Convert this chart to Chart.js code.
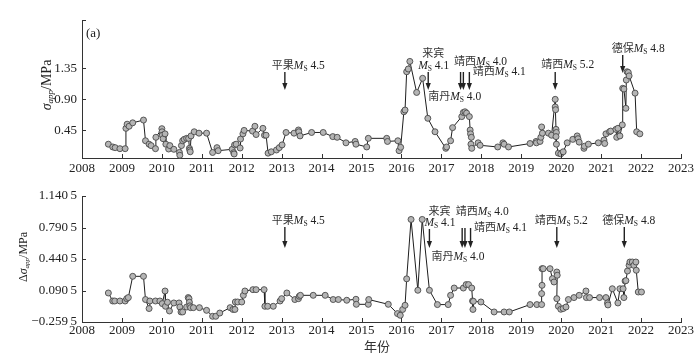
<!DOCTYPE html>
<html lang="zh">
<head>
<meta charset="UTF-8">
<title>视应力时间序列</title>
<script src="https://cdn.jsdelivr.net/npm/chart.js"></script>
<style>
  body { margin: 0; background: #fff; }
  #wrap { position: relative; width: 700px; height: 358px; }
  canvas { position: absolute; left: 0; }
  #chartTop { top: 0; }
  #chartBot { top: 180px; }
</style>
</head>
<body>
<div id="wrap">
  <canvas id="chartTop" width="700" height="175"></canvas>
  <canvas id="chartBot" width="700" height="178"></canvas>
</div>
<script>
// (a) 视应力 σapp
const topYears = [2008.66,2008.77,2008.83,2008.95,2009.08,2009.10,2009.13,2009.18,2009.27,2009.54,2009.59,2009.68,2009.73,2009.84,2009.85,2010.00,2010.005,2010.01,2010.03,2010.08,2010.10,2010.17,2010.20,2010.30,2010.44,2010.45,2010.49,2010.52,2010.56,2010.62,2010.67,2010.69,2010.70,2010.71,2010.73,2010.81,2010.93,2011.12,2011.27,2011.38,2011.41,2011.76,2011.80,2011.81,2011.82,2011.86,2011.96,2011.97,2012.03,2012.06,2012.27,2012.33,2012.36,2012.53,2012.57,2012.61,2012.66,2012.74,2012.87,2012.94,2013.01,2013.11,2013.31,2013.42,2013.43,2013.46,2013.75,2014.04,2014.28,2014.39,2014.61,2014.84,2014.86,2015.13,2015.17,2015.63,2015.65,2015.91,2015.94,2015.98,2016.06,2016.09,2016.13,2016.17,2016.21,2016.38,2016.53,2016.66,2016.84,2017.11,2017.13,2017.23,2017.28,2017.51,2017.55,2017.59,2017.63,2017.70,2017.72,2017.73,2017.75,2017.74,2017.76,2017.92,2017.97,2018.41,2018.54,2018.57,2018.68,2019.22,2019.37,2019.38,2019.47,2019.49,2019.51,2019.53,2019.68,2019.76,2019.85,2019.85,2019.86,2019.87,2019.88,2019.87,2019.88,2019.93,2019.99,2020.05,2020.15,2020.29,2020.40,2020.42,2020.45,2020.57,2020.58,2020.68,2020.93,2021.07,2021.09,2021.12,2021.21,2021.24,2021.37,2021.39,2021.42,2021.47,2021.53,2021.54,2021.57,2021.62,2021.63,2021.65,2021.68,2021.70,2021.85,2021.89,2021.97];
const topSigma = [0.25,0.21,0.20,0.185,0.185,0.48,0.54,0.51,0.56,0.60,0.30,0.25,0.23,0.185,0.35,0.475,0.43,0.38,0.33,0.40,0.25,0.18,0.23,0.176,0.13,0.09,0.23,0.30,0.32,0.335,0.335,0.19,0.166,0.14,0.37,0.43,0.41,0.41,0.13,0.20,0.156,0.176,0.127,0.108,0.24,0.25,0.195,0.325,0.40,0.45,0.44,0.51,0.39,0.48,0.38,0.38,0.12,0.14,0.166,0.20,0.24,0.42,0.41,0.456,0.43,0.37,0.42,0.42,0.36,0.35,0.27,0.29,0.25,0.21,0.335,0.335,0.29,0.30,0.156,0.205,0.72,0.745,1.30,1.34,1.45,1.00,1.205,0.625,0.43,0.19,0.21,0.30,0.49,0.65,0.71,0.72,0.70,0.65,0.455,0.40,0.35,0.25,0.19,0.27,0.234,0.21,0.27,0.25,0.21,0.26,0.29,0.27,0.29,0.35,0.50,0.41,0.41,0.38,0.90,0.79,0.75,0.465,0.42,0.36,0.25,0.12,0.11,0.14,0.27,0.32,0.37,0.33,0.28,0.19,0.22,0.25,0.27,0.31,0.26,0.40,0.43,0.44,0.465,0.35,0.48,0.37,0.53,1.06,1.05,0.77,1.18,1.30,1.29,1.24,0.99,0.43,0.40];
const topTicks = [0.45, 0.90, 1.35];

// 视应力变化 Δσapp
const botYears = [2008.66,2008.77,2008.82,2008.95,2009.08,2009.12,2009.16,2009.27,2009.54,2009.59,2009.68,2009.70,2009.84,2009.95,2010.01,2010.08,2010.09,2010.14,2010.19,2010.30,2010.43,2010.45,2010.48,2010.52,2010.62,2010.66,2010.68,2010.69,2010.70,2010.72,2010.79,2010.94,2011.12,2011.27,2011.35,2011.45,2011.71,2011.78,2011.83,2011.84,2011.90,2012.00,2012.04,2012.08,2012.28,2012.36,2012.56,2012.58,2012.65,2012.79,2012.96,2013.00,2013.13,2013.33,2013.42,2013.44,2013.47,2013.79,2014.09,2014.29,2014.42,2014.63,2014.86,2014.87,2015.17,2015.18,2015.67,2015.90,2015.97,2016.03,2016.09,2016.13,2016.24,2016.41,2016.52,2016.70,2016.90,2017.17,2017.23,2017.32,2017.55,2017.62,2017.68,2017.76,2017.78,2017.79,2017.80,2017.99,2018.32,2018.57,2018.70,2019.22,2019.39,2019.51,2019.51,2019.52,2019.52,2019.55,2019.72,2019.78,2019.82,2019.89,2019.90,2019.89,2019.93,2019.99,2020.05,2020.12,2020.18,2020.32,2020.45,2020.62,2020.63,2020.71,2020.96,2021.12,2021.16,2021.17,2021.28,2021.42,2021.47,2021.55,2021.57,2021.60,2021.62,2021.66,2021.70,2021.72,2021.78,2021.82,2021.87,2021.88,2021.93,2022.01];
const botDelta = [0.063,-0.026,-0.026,-0.026,-0.026,0.0,0.012,0.248,0.248,-0.01,-0.11,-0.026,-0.026,-0.026,-0.055,0.085,-0.085,-0.04,-0.137,-0.048,-0.048,-0.093,-0.148,-0.148,-0.093,0.012,0.0,-0.04,-0.08,-0.10,-0.10,-0.10,-0.13,-0.196,-0.196,-0.16,-0.10,-0.12,-0.12,-0.037,-0.037,-0.037,0.037,0.085,0.10,0.10,0.10,-0.085,-0.085,-0.085,-0.026,0.0,0.063,-0.01,0.0,0.026,0.037,0.037,0.037,-0.01,-0.01,-0.018,-0.007,-0.063,-0.063,-0.01,-0.063,-0.166,-0.185,-0.12,-0.074,0.22,0.88,0.093,0.88,0.093,-0.066,-0.066,0.037,0.118,0.118,0.156,0.156,0.118,-0.026,-0.12,-0.03,-0.037,-0.148,-0.148,-0.148,-0.066,-0.066,-0.066,0.056,0.148,0.333,0.333,0.333,0.222,0.185,0.296,0.26,0.0,-0.085,-0.118,-0.11,-0.093,-0.01,0.012,0.037,0.085,0.012,0.012,0.012,0.012,-0.048,-0.07,0.11,-0.048,0.11,0.11,0.012,0.196,0.20,0.307,0.37,0.407,0.407,0.37,0.407,0.315,0.074,0.074];
const botTicks = [-0.2595, 0.0905, 0.4405, 0.7905, 1.1405];

const yearTicks = [2008, 2009, 2010, 2011, 2012, 2013, 2014, 2015, 2016, 2017, 2018, 2019, 2020, 2021, 2022, 2023];

// 地震事件（箭头所在年份）
const quakeYearsTop = [2013.08, 2016.67, 2017.48, 2017.55, 2017.70, 2019.85, 2021.54];
const quakeYearsBot = [2013.08, 2016.70, 2017.52, 2017.59, 2017.73, 2019.89, 2021.58];

const serif = '"Liberation Serif", "Times New Roman", serif';
const cjk = '"Liberation Serif", "Noto Sans CJK SC", serif';
const ink = '#222';

function pts(xs, ys) {
  return xs.map((x, i) => ({ x: x, y: ys[i] }));
}

// 地名 + Ms + 震级
function quakeLabel(ctx, x, y, place, mag) {
  ctx.save();
  ctx.fillStyle = ink;
  ctx.textBaseline = 'middle';
  ctx.textAlign = 'left';
  if (place) {
    ctx.fillStyle = '#333';
    ctx.font = '11px ' + cjk;
    ctx.fillText(place, x, y);
    x += ctx.measureText(place).width;
    ctx.fillStyle = ink;
  }
  ctx.font = 'italic 11.5px ' + serif;
  ctx.fillText('M', x, y);
  x += ctx.measureText('M').width;
  ctx.font = '7.5px ' + serif;
  ctx.fillText('S', x, y + 3);
  x += ctx.measureText('S').width;
  ctx.font = '11.5px ' + serif;
  ctx.fillText(' ' + mag, x, y);
  ctx.restore();
}

function plainText(ctx, x, y, txt) {
  ctx.save();
  ctx.fillStyle = '#333';
  ctx.font = '11px ' + cjk;
  ctx.textBaseline = 'middle';
  ctx.textAlign = 'left';
  ctx.fillText(txt, x, y);
  ctx.restore();
}

function arrow(ctx, x, y0, y1) {
  ctx.save();
  ctx.strokeStyle = ink;
  ctx.fillStyle = ink;
  ctx.lineWidth = 1.4;
  ctx.beginPath();
  ctx.moveTo(x, y0);
  ctx.lineTo(x, y1 - 6);
  ctx.stroke();
  ctx.beginPath();
  ctx.moveTo(x - 2.6, y1 - 7);
  ctx.lineTo(x + 2.6, y1 - 7);
  ctx.lineTo(x, y1);
  ctx.closePath();
  ctx.fill();
  ctx.restore();
}

// y 轴标题：σapp/MPa
function yTitle(ctx, cx, cy, size, delta) {
  ctx.save();
  ctx.translate(cx, cy);
  ctx.rotate(-Math.PI / 2);
  ctx.fillStyle = ink;
  ctx.textBaseline = 'middle';
  const parts = [];
  if (delta) parts.push(['Δ', size + 'px ' + serif, 0]);
  parts.push(['σ', 'italic ' + size + 'px ' + serif, 0]);
  parts.push(['app', 'italic ' + Math.round(size * 0.62) + 'px ' + serif, size * 0.28]);
  parts.push(['/MPa', size + 'px ' + serif, 0]);
  let w = 0;
  parts.forEach(p => { ctx.font = p[1]; w += ctx.measureText(p[0]).width; });
  let x = -w / 2;
  parts.forEach(p => {
    ctx.font = p[1];
    ctx.fillText(p[0], x, p[2]);
    x += ctx.measureText(p[0]).width;
  });
  ctx.restore();
}

const decorations = {
  id: 'decorations',
  afterDraw(chart, args, opts) {
    const ctx = chart.ctx;
    const xs = chart.scales.x, ys = chart.scales.y;
    const area = chart.chartArea;
    // 朝内的刻度线
    ctx.save();
    ctx.strokeStyle = '#333';
    ctx.lineWidth = 1;
    ctx.beginPath();
    yearTicks.forEach(t => {
      const px = Math.round(xs.getPixelForValue(t)) + 0.5;
      ctx.moveTo(px, area.bottom);
      ctx.lineTo(px, area.bottom - 4);
    });
    opts.yTicks.concat([ys.max]).forEach(t => {
      const py = Math.round(ys.getPixelForValue(t)) + 0.5;
      ctx.moveTo(area.left, py);
      ctx.lineTo(area.left + 4, py);
    });
    ctx.stroke();
    ctx.restore();

    yTitle(ctx, opts.titleX, opts.titleY, opts.titleSize, opts.delta);
    if (opts.tag) {
      ctx.save();
      ctx.fillStyle = ink;
      ctx.font = '13px ' + serif;
      ctx.textBaseline = 'middle';
      ctx.fillText(opts.tag, 86, 34);
      ctx.restore();
    }
    if (opts.xTitle) {
      ctx.save();
      ctx.fillStyle = '#333';
      ctx.font = '13px ' + cjk;
      ctx.textAlign = 'center';
      ctx.textBaseline = 'middle';
      ctx.fillText(opts.xTitle, 377, 168);
      ctx.restore();
    }

    const q = opts.quakes;
    const ax = q.years.map(y => xs.getPixelForValue(y));
    const L = q.layout;
    // 平果
    arrow(ctx, ax[0], L.a0, L.a1);
    quakeLabel(ctx, ax[0] - 13, L.pingguo, '平果', '4.5');
    // 来宾 / 南丹
    arrow(ctx, ax[1], L.b0, L.a1);
    plainText(ctx, ax[1] + L.laibinDx, L.laibin, '来宾');
    quakeLabel(ctx, ax[1] + L.laibinDx - 4, L.laibin2, '', '4.1');
    quakeLabel(ctx, ax[1] + L.nandanDx, L.nandan, '南丹', '4.0');
    // 靖西 三箭头
    arrow(ctx, ax[2], L.c0, L.a1);
    arrow(ctx, ax[3], L.c0, L.a1);
    arrow(ctx, ax[4], L.c0, L.a1);
    quakeLabel(ctx, ax[2] - 6.5, L.jx40, '靖西', '4.0');
    quakeLabel(ctx, ax[4] + 3.5, L.jx41, '靖西', '4.1');
    // 靖西 5.2
    arrow(ctx, ax[5], L.a0, L.a1);
    quakeLabel(ctx, ax[5] + L.jx52Dx, L.jx52, '靖西', '5.2');
    // 德保
    arrow(ctx, ax[6], L.d0, L.d1);
    quakeLabel(ctx, ax[6] + L.debaoDx, L.debao, '德保', '4.8');
  }
};

function makeChart(id, data, cfg) {
  return new Chart(document.getElementById(id), {
    type: 'line',
    data: {
      datasets: [{
        data: data,
        borderColor: '#1e1e1e',
        borderWidth: 1,
        pointRadius: 3,
        pointBorderWidth: 0.9,
        pointBackgroundColor: '#b5b5b5',
        pointBorderColor: '#4a4a4a',
        tension: 0,
        clip: false
      }]
    },
    options: {
      responsive: false,
      devicePixelRatio: 1,
      animation: false,
      layout: { padding: { left: 0, right: 19, top: cfg.top, bottom: 0 } },
      plugins: {
        legend: { display: false },
        tooltip: { enabled: false },
        decorations: cfg.deco
      },
      scales: {
        x: {
          type: 'linear',
          min: 2008, max: 2023,
          afterFit: s => { s.height = cfg.xHeight; },
          afterBuildTicks: s => { s.ticks = yearTicks.map(v => ({ value: v })); },
          grid: { display: false, drawTicks: false },
          border: { display: true, color: '#333', width: 1 },
          ticks: {
            padding: cfg.xPad,
            autoSkip: false,
            maxRotation: 0,
            color: ink,
            font: { family: serif, size: 13 },
            callback: v => String(v)
          }
        },
        y: {
          min: cfg.yMin, max: cfg.yMax,
          afterFit: s => { s.width = 82; },
          afterBuildTicks: s => { s.ticks = cfg.yTicks.map(v => ({ value: v })); },
          grid: { display: false, drawTicks: false },
          border: { display: true, color: '#333', width: 1 },
          ticks: {
            padding: 5,
            color: ink,
            font: { family: serif, size: 13 },
            callback: cfg.fmt
          }
        }
      }
    },
    plugins: [decorations]
  });
}

makeChart('chartTop', pts(topYears, topSigma), {
  top: 20, xHeight: 17, xPad: 3, yMin: 0.05, yMax: 2.05, yTicks: topTicks,
  fmt: v => v.toFixed(2),
  deco: {
    yTicks: topTicks, titleX: 47, titleY: 85, titleSize: 14, delta: false, tag: '(a)',
    quakes: {
      years: quakeYearsTop,
      layout: { a0: 72, a1: 90, b0: 72, c0: 72, d0: 55, d1: 73,
        pingguo: 66, laibin: 54, laibin2: 66, laibinDx: -6, nandan: 97, nandanDx: 0,
        jx40: 62, jx41: 72, jx52: 65, jx52Dx: -14, debao: 49, debaoDx: -11 }
    }
  }
});

makeChart('chartBot', pts(botYears, botDelta), {
  top: 16, xHeight: 36, xPad: 1, yMin: -0.2595, yMax: 1.1405, yTicks: botTicks,
  fmt: v => {
    const s = Math.abs(v).toFixed(4);
    return (v < 0 ? '\u2212' : '') + s.slice(0, -1) + '\u2009' + s.slice(-1);
  },
  deco: {
    yTicks: botTicks, titleX: 24, titleY: 77, titleSize: 12, delta: true, xTitle: '年份',
    quakes: {
      years: quakeYearsBot,
      layout: { a0: 47, a1: 68, b0: 49, c0: 48, d0: 47, d1: 68,
        pingguo: 41, laibin: 32, laibin2: 43, laibinDx: -1, nandan: 77, nandanDx: 2,
        jx40: 32, jx41: 48, jx52: 41, jx52Dx: -22, debao: 41, debaoDx: -22 }
    }
  }
});
</script>
</body>
</html>
